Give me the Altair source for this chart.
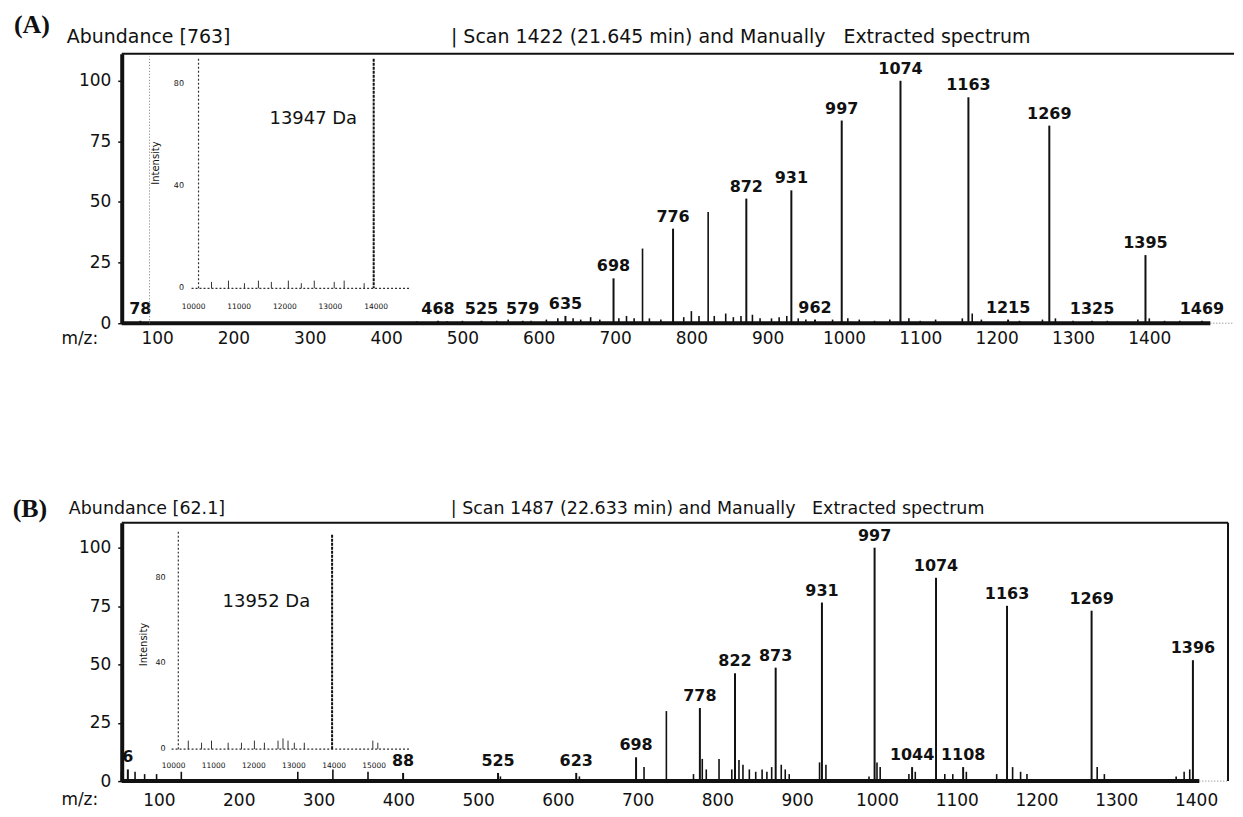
import altair as alt
import pandas as pd

INK = "#111111"
SANS = "DejaVu Sans"
SERIF = "Liberation Serif"
GAP = "\u00a0\u00a0\u00a0"

X_TICKS = [100, 200, 300, 400, 500, 600, 700, 800, 900, 1000, 1100, 1200, 1300, 1400]
Y_TICKS = [0, 25, 50, 75, 100]
INSET_Y_TICKS = [0, 40, 80]

# ------------------------------------------------------------------ panel A
A_TAG = "(A)"
A_ABUND = "Abundance [763]"
A_SCAN = "| Scan 1422 (21.645 min) and Manually" + GAP + "Extracted spectrum"
A_PEAK_MZ = [78, 468, 525, 579, 635, 698, 776, 872, 931, 962, 997, 1074, 1163, 1215, 1269, 1325, 1395, 1469]
A_PEAK_INT = [1.0, 1.0, 1.0, 1.0, 3.0, 18.5, 39.0, 51.4, 54.8, 1.5, 83.6, 100.0, 93.2, 1.5, 81.5, 1.0, 28.1, 1.0]
A_PEAK_LAB = ["78", "468", "525", "579", "635", "698", "776", "872", "931", "962", "997", "1074",
              "1163", "1215", "1269", "1325", "1395", "1469"]
A_OTHER_MZ = [736, 822,
              440, 480, 500, 545, 560, 590, 610, 625, 645, 655, 668, 680, 705, 715, 725, 745, 760,
              790, 800, 810, 830, 845, 855, 865, 880, 890, 905, 915, 925, 940, 950, 985, 1005, 1020,
              1040, 1060, 1085, 1100, 1120, 1155, 1168, 1180, 1230, 1260, 1277, 1300, 1345, 1385,
              1400, 1420, 1440]
A_OTHER_INT = [30.8, 45.9,
               0.8, 0.8, 1.0, 1.0, 1.5, 1.0, 1.5, 2.0, 2.0, 1.5, 2.5, 1.5, 2.0, 3.0, 2.0, 2.0, 1.5,
               2.5, 5.0, 3.0, 3.0, 4.0, 2.5, 3.0, 3.5, 2.0, 2.0, 2.5, 3.0, 2.0, 1.5, 1.5, 2.0, 1.5,
               1.0, 1.5, 2.0, 1.0, 1.5, 2.0, 4.0, 1.5, 1.0, 1.5, 2.0, 1.0, 1.0, 1.5,
               2.0, 1.0, 1.0]
A_INSET_LABEL = "13947 Da"
A_INSET_PEAK = 13947
A_INSET_XTICKS = [10000, 11000, 12000, 13000, 14000]
A_INSET_NOISE_M = [10393, 10765, 11115, 11421, 11705, 12077, 12361, 12645, 13082, 13300, 13738]
A_INSET_NOISE_V = [2.5, 3.0, 2.0, 3.0, 2.5, 3.0, 2.0, 3.0, 2.5, 3.0, 2.0]

# ------------------------------------------------------------------ panel B
B_TAG = "(B)"
B_ABUND = "Abundance [62.1]"
B_SCAN = "| Scan 1487 (22.633 min) and Manually" + GAP + "Extracted spectrum"
B_PEAK_MZ = [61, 406, 525, 623, 698, 778, 822, 873, 931, 997, 1044, 1074, 1108, 1163, 1269, 1396]
B_PEAK_INT = [5.0, 3.5, 3.5, 3.5, 10.2, 31.3, 46.2, 48.6, 76.5, 100.0, 6.0, 87.1, 6.0, 75.1, 73.0, 51.8]
B_PEAK_LAB = ["6", "88", "525", "623", "698", "778", "822", "873", "931", "997", "1044", "1074",
              "1108", "1163", "1269", "1396"]
B_OTHER_MZ = [736,
              53, 70, 82, 97, 128, 274, 318, 362, 528, 627, 708, 770, 781, 786, 802, 818, 827,
              832, 840, 848, 856, 862, 868, 880, 885, 890, 928, 936, 990, 1000, 1004, 1040, 1048,
              1085, 1095, 1112, 1150, 1170, 1180, 1188, 1276, 1285, 1375, 1385, 1392]
B_OTHER_INT = [30.0,
               4.0, 4.0, 3.0, 3.0, 4.0, 4.0, 5.0, 4.0, 2.0, 2.0, 6.0, 3.0, 9.5, 5.0, 9.5, 5.0, 9.0,
               7.0, 5.0, 4.0, 5.0, 4.0, 6.0, 7.0, 5.0, 3.0, 8.0, 7.0, 2.0, 8.0, 6.0, 3.0, 4.0,
               3.0, 3.0, 4.0, 3.0, 6.0, 4.0, 3.0, 6.0, 3.0, 2.0, 4.0, 5.0]
B_INSET_LABEL = "13952 Da"
B_INSET_PEAK = 13952
B_INSET_XTICKS = [10000, 11000, 12000, 13000, 14000, 15000]
B_INSET_NOISE_M = [10366, 10697, 10945, 11360, 11692, 12015, 12264, 12604, 12728, 12853, 13010,
                   13259, 14968, 15092]
B_INSET_NOISE_V = [4.0, 3.0, 4.0, 3.0, 3.0, 4.0, 3.0, 4.0, 5.0, 4.0, 3.0, 3.0, 4.0, 3.0]


def sc(dom):
    return alt.Scale(domain=list(dom), nice=False, zero=False)


def xq(field, dom, axis=None):
    return alt.X(field, type="quantitative", scale=sc(dom), axis=axis)


def yq(field, dom, axis=None):
    return alt.Y(field, type="quantitative", scale=sc(dom), axis=axis)


def panel(p):
    xd, yd, ixd, iyd = p["xdom"], p["ydom"], p["ixdom"], p["iydom"]

    peaks = pd.DataFrame({"mz": p["peak_mz"], "v": p["peak_int"], "lab": p["peak_lab"]})
    peaks["b"] = 0.0
    other = pd.DataFrame({"mz": p["other_mz"], "v": p["other_int"]})
    other["b"] = 0.0

    x_axis = alt.Axis(values=X_TICKS, format="d", domain=False, ticks=False, tickSize=0, grid=False,
                      title=None, labelFontSize=17, labelPadding=p["xpad"], labelFlush=False,
                      labelFont=SANS, labelColor=INK)
    y_axis = alt.Axis(values=Y_TICKS, format="d", domain=True, domainColor=INK, domainWidth=4, ticks=True,
                      tickColor=INK, tickSize=4, tickWidth=1.5, grid=False, title=None,
                      labelFontSize=17, labelPadding=7, labelFont=SANS, labelColor=INK)

    layers = []
    layers.append(alt.Chart(peaks).mark_rule(color=INK, strokeWidth=2).encode(
        x=xq("mz", xd, x_axis), y=yq("v", yd, y_axis), y2="b"))
    layers.append(alt.Chart(other).mark_rule(color=INK, strokeWidth=1.6).encode(
        x=xq("mz", xd), y=yq("v", yd), y2="b"))
    layers.append(alt.Chart(peaks).mark_text(font=SANS, fontWeight="bold", fontSize=16, color=INK,
                                             baseline="bottom", dy=-4).encode(
        x=xq("mz", xd), y=yq("v", yd), text="lab:N"))

    # frame: thick baseline, border lines, dotted extension
    base = pd.DataFrame({"x": [xd[0]], "x2": [p["base_end"]], "y": [0.0], "y2": [0.0]})
    layers.append(alt.Chart(base).mark_rule(color=INK, strokeWidth=4).encode(
        x=xq("x", xd), x2="x2", y=yq("y", yd), y2="y2"))
    bx, bx2, by, by2 = [xd[0]], [xd[1]], [yd[1]], [yd[1]]
    if p["right_border"]:
        bx.append(xd[1]); bx2.append(xd[1]); by.append(0.0); by2.append(yd[1])
    border = pd.DataFrame({"x": bx, "x2": bx2, "y": by, "y2": by2})
    layers.append(alt.Chart(border).mark_rule(color=INK, strokeWidth=2).encode(
        x=xq("x", xd), x2="x2", y=yq("y", yd), y2="y2"))
    dots = pd.DataFrame({"x": p["dot_x"], "x2": p["dot_x2"], "y": p["dot_y"], "y2": p["dot_y2"]})
    layers.append(alt.Chart(dots).mark_rule(color="#777777", strokeWidth=1, strokeDash=[1, 2]).encode(
        x=xq("x", xd), x2="x2", y=yq("y", yd), y2="y2"))

    # header texts and m/z label
    tag = pd.DataFrame({"x": [p["tag_pos"][0]], "y": [p["tag_pos"][1]], "t": [p["tag"]]})
    layers.append(alt.Chart(tag).mark_text(font=SERIF, fontWeight="bold", fontSize=26, color=INK,
                                           baseline="middle").encode(
        x=xq("x", xd), y=yq("y", yd), text="t:N"))
    heads = pd.DataFrame({"x": [p["abund_pos"][0], p["scan_pos"][0]],
                          "y": [p["abund_pos"][1], p["scan_pos"][1]],
                          "t": [p["abund"], p["scan"]]})
    layers.append(alt.Chart(heads).mark_text(font=SANS, fontSize=p["head_size"], color=INK, align="left",
                                             baseline="middle").encode(
        x=xq("x", xd), y=yq("y", yd), text="t:N"))
    mz = pd.DataFrame({"x": [p["mz_pos"][0]], "y": [p["mz_pos"][1]], "t": ["m/z:"]})
    layers.append(alt.Chart(mz).mark_text(font=SANS, fontSize=17, color=INK,
                                          baseline="middle").encode(
        x=xq("x", xd), y=yq("y", yd), text="t:N"))

    # ---- inset (deconvoluted spectrum), its own scales
    ia = pd.DataFrame({"x": [p["i_yaxis_x"], p["i_xaxis"][0]], "x2": [p["i_yaxis_x"], p["i_xaxis"][1]],
                       "y": [0.0, 0.0], "y2": [p["i_top"], 0.0]})
    layers.append(alt.Chart(ia).mark_rule(color="#333333", strokeWidth=1.2, strokeDash=[2, 2]).encode(
        x=xq("x", ixd), x2="x2", y=yq("y", iyd), y2="y2"))
    ip = pd.DataFrame({"m": [p["i_peak"]], "v": [p["i_peak_top"]], "b": [0.0]})
    layers.append(alt.Chart(ip).mark_rule(color=INK, strokeWidth=2, strokeDash=[3, 1]).encode(
        x=xq("m", ixd), y=yq("v", iyd), y2="b"))
    inoise = pd.DataFrame({"m": p["i_noise_m"], "v": p["i_noise_v"]})
    inoise["b"] = 0.0
    layers.append(alt.Chart(inoise).mark_rule(color="#333333", strokeWidth=1).encode(
        x=xq("m", ixd), y=yq("v", iyd), y2="b"))
    ixt = pd.DataFrame({"m": p["i_xticks"], "v": [p["i_xlab_y"]] * len(p["i_xticks"]),
                        "t": [str(v) for v in p["i_xticks"]]})
    layers.append(alt.Chart(ixt).mark_text(font=SANS, fontSize=7.5, color=INK, baseline="middle").encode(
        x=xq("m", ixd), y=yq("v", iyd), text="t:N"))
    iyt = pd.DataFrame({"m": [p["i_ylab_x"]] * len(INSET_Y_TICKS), "v": INSET_Y_TICKS,
                        "t": [str(v) for v in INSET_Y_TICKS]})
    layers.append(alt.Chart(iyt).mark_text(font=SANS, fontSize=8, color=INK, align="right",
                                           baseline="middle").encode(
        x=xq("m", ixd), y=yq("v", iyd), text="t:N"))
    itl = pd.DataFrame({"m": [p["i_title_pos"][0]], "v": [p["i_title_pos"][1]], "t": ["Intensity"]})
    layers.append(alt.Chart(itl).mark_text(font=SANS, fontSize=10, color=INK, angle=270,
                                           baseline="middle").encode(
        x=xq("m", ixd), y=yq("v", iyd), text="t:N"))
    ida = pd.DataFrame({"m": [p["i_label_pos"][0]], "v": [p["i_label_pos"][1]], "t": [p["i_label"]]})
    layers.append(alt.Chart(ida).mark_text(font=SANS, fontSize=18, color=INK,
                                           baseline="middle").encode(
        x=xq("m", ixd), y=yq("v", iyd), text="t:N"))

    return alt.layer(*layers).resolve_scale(x="independent", y="independent").properties(
        width=p["w"], height=p["h"])


PA = dict(
    xdom=[53.6, 1511.0], ydom=[0.0, 111.1], w=1115, h=270, xpad=7, base_end=1480, right_border=False,
    peak_mz=A_PEAK_MZ, peak_int=A_PEAK_INT, peak_lab=A_PEAK_LAB,
    other_mz=A_OTHER_MZ, other_int=A_OTHER_INT,
    dot_x=[1480, 90], dot_x2=[1511, 90], dot_y=[0.0, 0.0], dot_y2=[0.0, 110.0],
    tag=A_TAG, tag_pos=(-64, 123.0), abund=A_ABUND, abund_pos=(-18.3, 118.1),
    scan=A_SCAN, scan_pos=(485, 118.1), mz_pos=(-1.3, -6.4), head_size=19,
    ixdom=[8426, 32798], iydom=[-13.66, 91.7],
    i_yaxis_x=10109, i_xaxis=(9956, 14765), i_top=89.8,
    i_peak=A_INSET_PEAK, i_peak_top=89.8, i_noise_m=A_INSET_NOISE_M, i_noise_v=A_INSET_NOISE_V,
    i_xticks=A_INSET_XTICKS, i_xlab_y=-7.4, i_ylab_x=9790, i_title_pos=(9169, 49.0),
    i_label=A_INSET_LABEL, i_label_pos=(12623, 66.3),
)

PB = dict(
    xdom=[53.3, 1440.0], ydom=[0.0, 110.7], w=1109, h=259, xpad=11, base_end=1404, right_border=True,
    peak_mz=B_PEAK_MZ, peak_int=B_PEAK_INT, peak_lab=B_PEAK_LAB,
    other_mz=B_OTHER_MZ, other_int=B_OTHER_INT,
    dot_x=[1404], dot_x2=[1440], dot_y=[0.0], dot_y2=[0.0],
    tag=B_TAG, tag_pos=(-61.75, 116.7), abund=B_ABUND, abund_pos=(-13.0, 116.7),
    scan=B_SCAN, scan_pos=(465.7, 116.7), mz_pos=(0.75, -8.1), head_size=17.5,
    ixdom=[8706, 36294], iydom=[-14.9, 105.6],
    i_yaxis_x=10117, i_xaxis=(9950, 15920), i_top=102.0,
    i_peak=B_INSET_PEAK, i_peak_top=100.0, i_noise_m=B_INSET_NOISE_M, i_noise_v=B_INSET_NOISE_V,
    i_xticks=B_INSET_XTICKS, i_xlab_y=-7.9, i_ylab_x=9800, i_title_pos=(9254, 48.8),
    i_label=B_INSET_LABEL, i_label_pos=(12313, 68.8),
)

chart = alt.vconcat(panel(PA), panel(PB), spacing=200, bounds="flush").properties(
    padding={"left": 4, "top": 3, "right": 0, "bottom": 4}
).configure_view(stroke=None)

chart.save("out.html", embed_options={"renderer": "svg", "actions": False})
